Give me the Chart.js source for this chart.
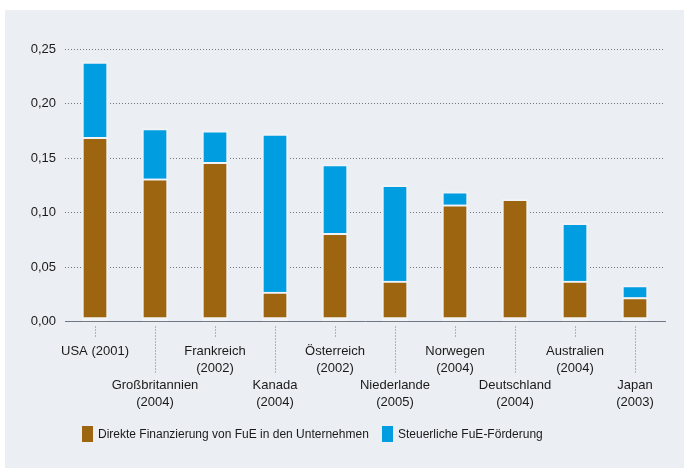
<!DOCTYPE html>
<html>
<head>
<meta charset="utf-8">
<script src="https://cdn.jsdelivr.net/npm/chart.js@4/dist/chart.umd.min.js"></script>
<style>
  html, body { margin: 0; padding: 0; background: #ffffff; }
  #wrap { position: relative; width: 686px; height: 468px; overflow: hidden; }
  #panel { position: absolute; left: 5px; top: 10px; width: 679px; height: 458px; background: #ebeff3; }
  #c { position: absolute; left: 0; top: 0; }
  .legend { position: absolute; top: 426px; font-family: "Liberation Sans", Arial, sans-serif; font-size: 12px; color: #1a1a1a; line-height: 16px; white-space: nowrap; }
  .legend .box { display: inline-block; width: 11px; height: 16px; vertical-align: top; margin-right: 5px; }
</style>
</head>
<body>
<div id="wrap">
  <div id="panel"></div>
  <canvas id="c" width="686" height="468"></canvas>
  <div class="legend" id="leg1" style="left:82px"><span class="box" style="background:#9e6511"></span><span id="lt1"></span></div>
  <div class="legend" id="leg2" style="left:382px"><span class="box" style="background:#009ee0"></span><span id="lt2"></span></div>
</div>
<script>
// ---- data ----
const tickLabels = [
  ['USA (2001)'],
  ['Großbritannien', '(2004)'],
  ['Frankreich', '(2002)'],
  ['Kanada', '(2004)'],
  ['Österreich', '(2002)'],
  ['Niederlande', '(2005)'],
  ['Norwegen', '(2004)'],
  ['Deutschland', '(2004)'],
  ['Australien', '(2004)'],
  ['Japan', '(2003)']
];
const seriesNames = ['Direkte Finanzierung von FuE in den Unternehmen', 'Steuerliche FuE-Förderung'];
const directFunding = [0.169, 0.131, 0.146, 0.027, 0.081, 0.037, 0.107, 0.112, 0.037, 0.022];
const taxIncentive  = [0.069, 0.046, 0.029, 0.145, 0.063, 0.088, 0.012, null, 0.053, 0.011];
const yTicks = [0, 0.05, 0.10, 0.15, 0.20, 0.25];

// ---- styling ----
const BROWN = '#9e6511';
const BLUE = '#009ee0';
const EDGE = '#f1f3f6';
const GRID = '#6f7882';
const TEXT = '#1a1a1a';
const FONT = '"Liberation Sans", Arial, sans-serif';

document.getElementById('lt1').textContent = seriesNames[0];
document.getElementById('lt2').textContent = seriesNames[1];

const tickMarks = {
  id: 'tickMarks',
  afterDraw(chart) {
    const xs = chart.scales.x;
    const ctx = chart.ctx;
    const b = chart.chartArea.bottom;
    ctx.save();
    ctx.strokeStyle = GRID;
    ctx.lineWidth = 1;
    ctx.setLineDash([1, 2]);
    for (let i = 0; i < tickLabels.length; i++) {
      const x = Math.round(xs.getPixelForTick(i)) + 0.5;
      const len = (i % 2 === 0) ? 10 : 46;
      ctx.beginPath();
      ctx.moveTo(x, b + 5);
      ctx.lineTo(x, b + 5 + len);
      ctx.stroke();
    }
    ctx.restore();
  }
};

new Chart(document.getElementById('c'), {
  type: 'bar',
  data: {
    labels: tickLabels.map((l, i) => i),
    datasets: [
      {
        label: seriesNames[0],
        data: directFunding,
        backgroundColor: BROWN,
        borderColor: EDGE,
        borderWidth: { left: 2, right: 2, top: 2, bottom: 4 },
        borderSkipped: false,
        barThickness: 26
      },
      {
        label: seriesNames[1],
        data: taxIncentive,
        backgroundColor: BLUE,
        borderColor: EDGE,
        borderWidth: { left: 2, right: 2, top: 2, bottom: 0 },
        borderSkipped: false,
        barThickness: 26
      }
    ]
  },
  options: {
    responsive: false,
    animation: false,
    devicePixelRatio: 1,
    layout: { padding: { top: 49, left: 0, right: 21, bottom: 0 } },
    plugins: { legend: { display: false }, tooltip: { enabled: false } },
    scales: {
      x: {
        stacked: true,
        z: 1,
        grid: { display: false, drawTicks: false, drawOnChartArea: false },
        border: { display: true, color: GRID, width: 1, dash: [1, 2] },
        ticks: {
          autoSkip: false,
          maxRotation: 0,
          minRotation: 0,
          padding: 21,
          color: TEXT,
          font: { family: FONT, size: 13, lineHeight: '17px' },
          callback: (v, i) => (i % 2 === 1 ? ['', ''].concat(tickLabels[i]) : tickLabels[i])
        },
        afterFit: s => { s.height = 146.5; }
      },
      y: {
        stacked: true,
        min: 0,
        max: 0.25,
        afterBuildTicks: s => { s.ticks = yTicks.map(v => ({ value: v })); },
        grid: {
          drawTicks: false,
          color: c => (c.tick && c.tick.value === 0 ? 'rgba(0,0,0,0)' : GRID),
          lineWidth: 1
        },
        border: { display: false, dash: [1, 2] },
        ticks: {
          padding: 9,
          color: TEXT,
          font: { family: FONT, size: 13 },
          callback: v => v.toFixed(2).replace('.', ',')
        },
        afterFit: s => { s.width = 65; }
      }
    }
  },
  plugins: [tickMarks]
});
</script>
</body>
</html>
